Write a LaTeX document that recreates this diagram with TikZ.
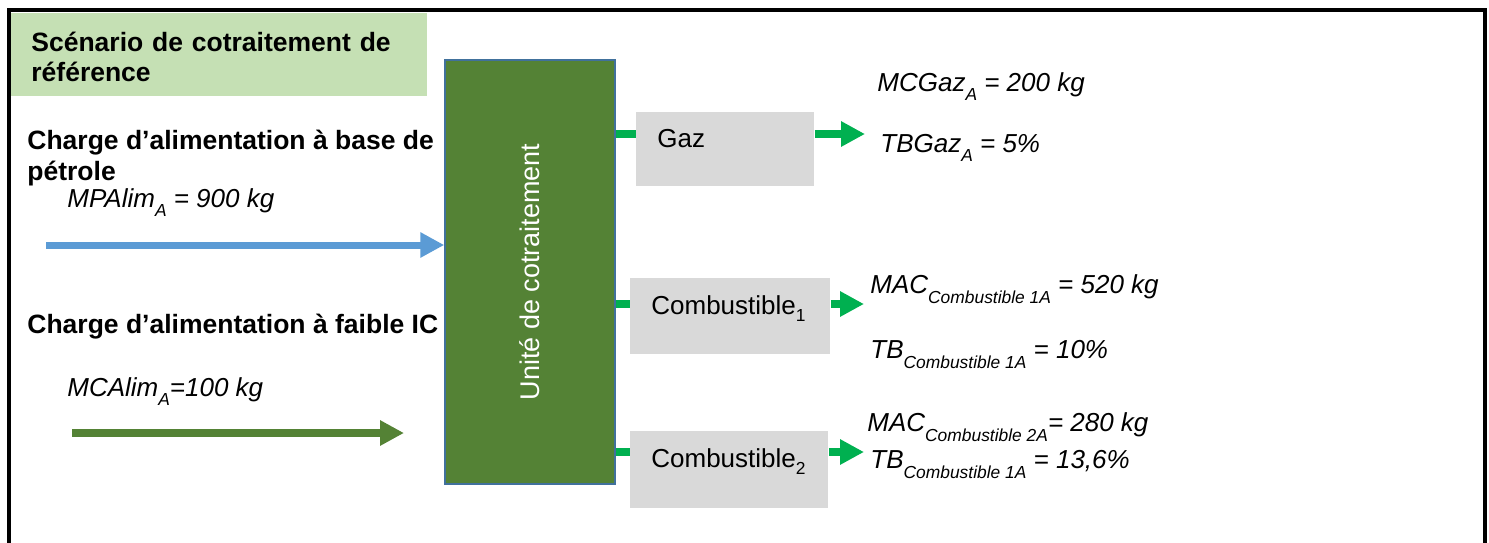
\documentclass[tikz,border=0pt]{standalone}
\usepackage{fontspec}
\setmainfont{Liberation Sans}
\usepackage{graphicx}
\usetikzlibrary{arrows.meta}

\definecolor{feedblue}{HTML}{5B9BD5}
\definecolor{unitgreen}{HTML}{548235}
\definecolor{unitedge}{HTML}{41719C}
\definecolor{outgreen}{HTML}{00B050}
\definecolor{boxgray}{HTML}{D9D9D9}
\definecolor{titlegreen}{HTML}{C5E0B4}

\newcommand{\lowidx}[2][4.5pt]{\raisebox{-#1}{\fontsize{8.7}{9}\selectfont #2}}

\begin{document}
\begin{tikzpicture}[x=0.5pt,y=-0.5pt,
  >={Triangle[length=12pt,width=12pt]},
  head/.style={font=\fontsize{13.25}{15.25}\selectfont\bfseries,anchor=base west,inner sep=0pt,align=left},
  val/.style={font=\fontsize{13}{15}\selectfont\itshape,anchor=base west,inner sep=0pt},
  outbox/.style={fill=boxgray,anchor=north west,inner xsep=10.5pt,inner ysep=0pt,align=left,
    text height=9pt,text depth=11pt,font=\fontsize{13}{15}\selectfont},
  link/.style={outgreen,line width=4pt},
  flow/.style={->,line width=4pt}]
\useasboundingbox (0,0) rectangle (1489,542);
\draw[line width=2pt] (8.5,10) rectangle (1484.5,620);

% title
\node[fill=titlegreen,anchor=north west,minimum height=41.5pt,inner xsep=10pt,inner ysep=0pt,
  text width=188pt,align=left,text height=2pt,text depth=5.5pt,
  font=\fontsize{13.25}{15}\selectfont\bfseries] (title) at (11,13)
  {Scénario de cotraitement de\\référence};

% inputs (base = last line)
\node[head] (chargeA) at (27,180) {Charge d’alimentation à base de\\pétrole};
\node[val] (mpalim) at (67,207) {MPAlim\lowidx{A} = 900 kg};
\node[head] (chargeB) at (27,333) {Charge d’alimentation à faible IC};
\node[val] (mcalim) at (67,396) {MCAlim\lowidx{A}=100 kg};

% unit
\node[fill=unitgreen,draw=unitedge,line width=0.75pt,minimum width=85pt,minimum height=212pt,
  inner sep=0pt,text=white,font=\fontsize{13.5}{15}\selectfont] (unit) at (530,272)
  {\rotatebox{90}{Unité de cotraitement}};

% outputs
\node[outbox,text width=68pt,minimum height=37pt] (gaz) at (636,112) {Gaz};
\node[outbox,text width=79pt,minimum height=38pt] (comb1) at (630,278) {Combustible\lowidx[3.5pt]{1}};
\node[outbox,text width=78pt,minimum height=38.5pt] (comb2) at (630,431) {Combustible\lowidx[3.5pt]{2}};

\node[val] (mcgaz) at (877,91) {MCGaz\lowidx{A} = 200 kg};
\node[val] (tbgaz) at (880,152) {TBGaz\lowidx{A} = 5\%};
\node[val] (mac1) at (870,293) {MAC\lowidx[5pt]{Combustible 1A} = 520 kg};
\node[val] (tb1) at (870,358) {TB\lowidx[5pt]{Combustible 1A} = 10\%};
\node[val] (mac2) at (867,431) {MAC\lowidx[5pt]{Combustible 2A}= 280 kg};
\node[val] (tb2) at (870,468) {TB\lowidx[5pt]{Combustible 1A} = 13,6\%};

% arrows
\coordinate (feedA) at (46,245);
\coordinate (feedB) at (72,433);
\coordinate (feedBend) at (404,433);
\coordinate (gazout) at (865,134);
\coordinate (comb1out) at (864,304);
\coordinate (comb2out) at (864,452);

\path (feedA) edge[flow,feedblue,line width=3.5pt] (unit.west |- feedA);
\path (feedB) edge[flow,unitgreen] (feedBend);
\foreach \out/\tip in {gaz/gazout,comb1/comb1out,comb2/comb2out}{
  \path (unit.east |- \tip) edge[link] (\out.west |- \tip);
  \path (\out.east |- \tip) edge[flow,outgreen] (\tip);
}
\end{tikzpicture}
\end{document}
